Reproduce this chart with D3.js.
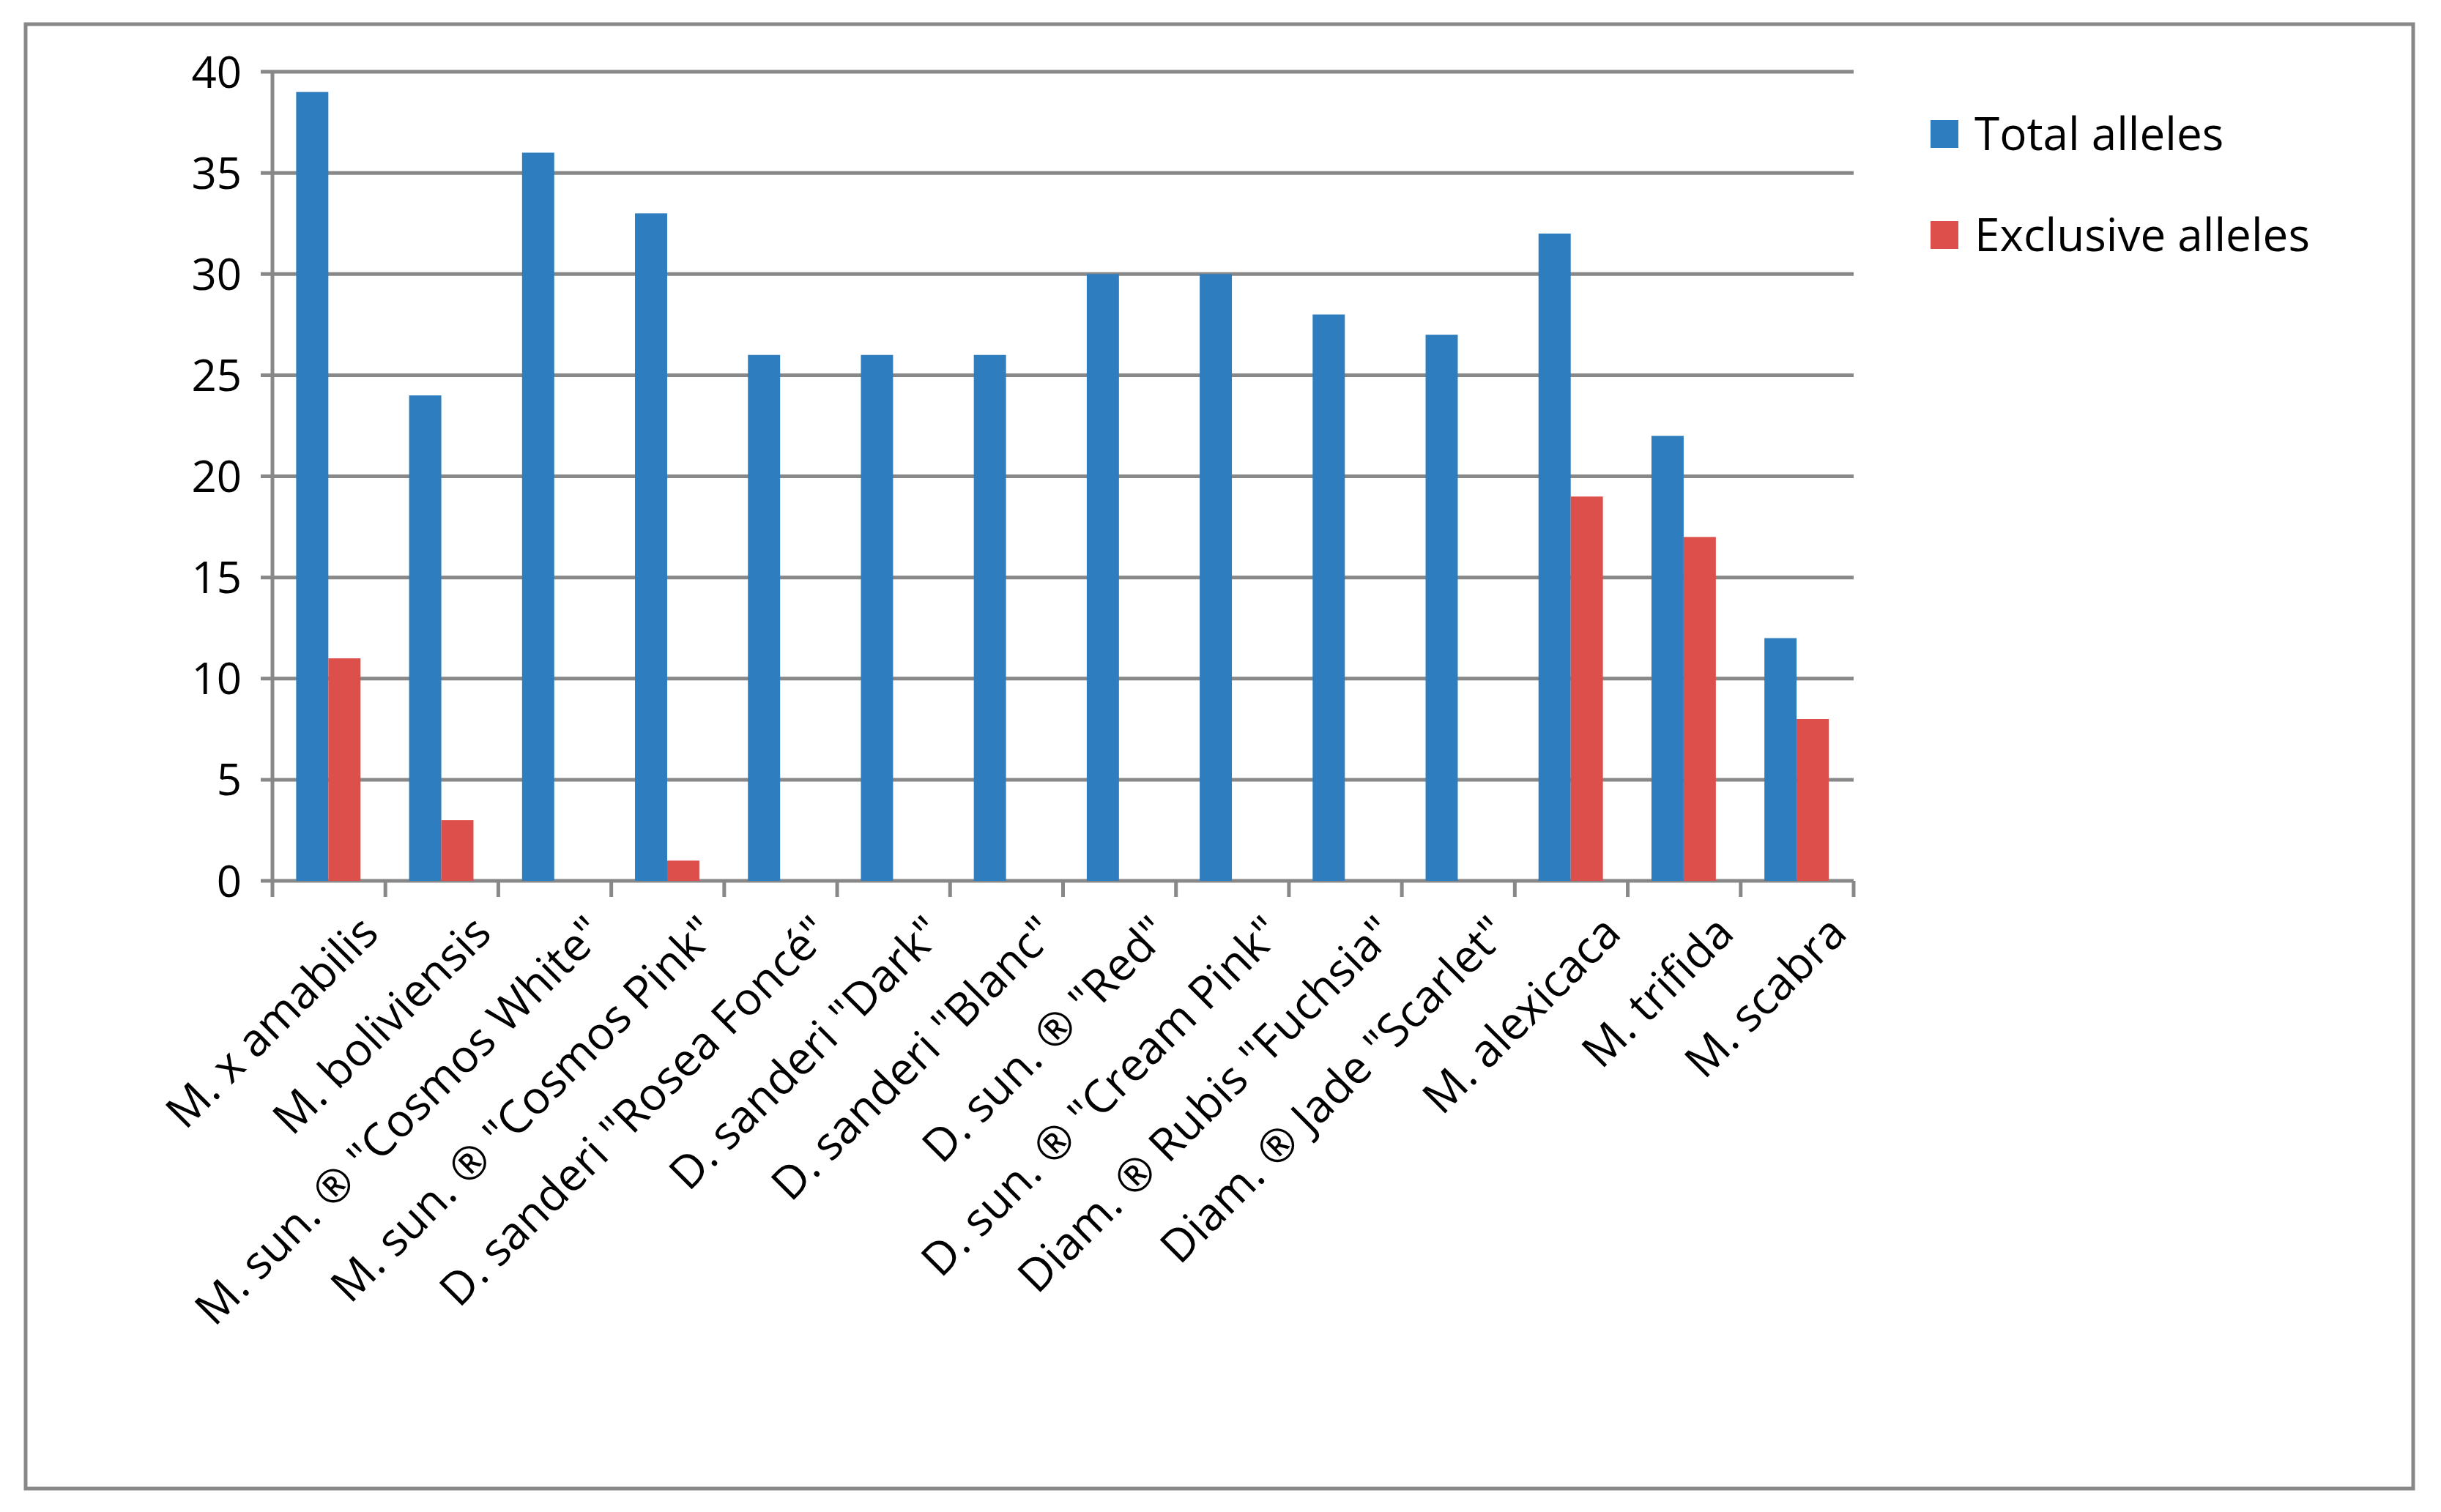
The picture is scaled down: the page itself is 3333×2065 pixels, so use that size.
<!DOCTYPE html><html><head><meta charset="utf-8">
<script src="https://cdn.jsdelivr.net/npm/d3@7"></script>
<style>body{margin:0;background:#fff}text{font-family:"Open Sans",sans-serif;fill:#000}</style></head><body>
<svg id="c" width="3333" height="2065"></svg>
<script>
const categories=['M. x amabilis','M. boliviensis','M. sun. ® "Cosmos White"','M. sun. ® "Cosmos Pink"','D. sanderi "Rosea Foncé"','D. sanderi "Dark"','D. sanderi "Blanc"','D. sun. ® "Red"','D. sun. ® "Cream Pink"','Diam. ® Rubis "Fuchsia"','Diam. ® Jade "Scarlet"','M. alexicaca','M. trifida','M. scabra'];
const totalAlleles=[39,24,36,33,26,26,26,30,30,28,27,32,22,12];
const exclusiveAlleles=[11,3,0,1,0,0,0,0,0,0,0,19,17,8];
const seriesNames=['Total alleles','Exclusive alleles'];
const yTicks=[0,5,10,15,20,25,30,35,40];
const colors=['#2e7ebf','#dc4f4b'];
const svg=d3.select('#c');
svg.append('rect').attr('x',35).attr('y',33).attr('width',3260).attr('height',2000).attr('fill','none').attr('stroke','#888').attr('stroke-width',5);
const L=372,R=2531,T=98,B=1203;
const x=d3.scaleBand().domain(categories).range([L,R]);
const y=d3.scaleLinear().domain([0,40]).range([B,T]);
const g=svg.append('g');
yTicks.forEach(t=>{
 g.append('line').attr('x1',L-16).attr('x2',R).attr('y1',y(t)).attr('y2',y(t)).attr('stroke','#888').attr('stroke-width',5);
 g.append('text').attr('x',L-42).attr('y',y(t)).attr('dy','0.36em').attr('text-anchor','end').attr('font-size',60).text(t);
});
g.append('line').attr('x1',L).attr('x2',L).attr('y1',T).attr('y2',B).attr('stroke','#888').attr('stroke-width',5);
const bw=x.bandwidth()*0.285, off=x.bandwidth()*0.21;
[totalAlleles,exclusiveAlleles].forEach((arr,i)=>{
 g.selectAll(null).data(arr).enter().append('rect')
  .attr('x',(d,j)=>x(categories[j])+off+i*bw).attr('width',bw)
  .attr('y',d=>y(d)).attr('height',d=>B-y(d)).attr('fill',colors[i]);
});
const xa=g.append('g');
categories.concat([null]).forEach((c,j)=>{
 const xx=c?x(c):R;
 xa.append('line').attr('x1',xx).attr('x2',xx).attr('y1',B).attr('y2',B+22).attr('stroke','#888').attr('stroke-width',5);
});
categories.forEach(c=>{
 const cx=x(c)+x.bandwidth()/2+40, cy=B+44;
 g.append('text').attr('transform',`translate(${cx},${cy}) rotate(-45)`).attr('text-anchor','end').attr('dy','0.7em').attr('font-size',62).text(c);
});
seriesNames.forEach((s,i)=>{
 const ly=183+i*138;
 svg.append('rect').attr('x',2636).attr('y',ly-19).attr('width',38).attr('height',38).attr('fill',colors[i]);
 svg.append('text').attr('x',2696).attr('y',ly).attr('dy','0.36em').attr('font-size',62).text(s);
});
</script></body></html>
